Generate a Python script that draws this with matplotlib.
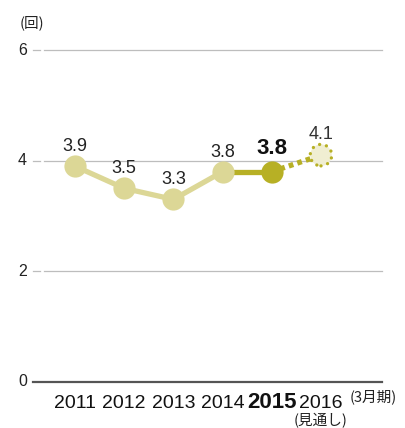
import matplotlib
matplotlib.use("Agg")
import matplotlib.pyplot as plt

plt.rcParams['font.family'] = ['Liberation Sans', 'Noto Sans CJK JP', 'DejaVu Sans']

# Data
years = [2011, 2012, 2013, 2014, 2015, 2016]
year_labels = ["2011", "2012", "2013", "2014", "2015", "2016"]
values = [3.9, 3.5, 3.3, 3.8, 3.8, 4.1]
value_labels = ["3.9", "3.5", "3.3", "3.8", "3.8", "4.1"]
y_ticks = [0, 2, 4, 6]

LIGHT = "#dcd796"
OLIVE = "#b7b025"
PALE = "#f0eed2"
GRID = "#bdbdbd"

fig = plt.figure(figsize=(4.06, 4.28), dpi=100)
W, H = 406, 428
ax = fig.add_axes([44 / W, 46 / H, 338 / W, 332 / H])
ax.set_xlim(2010.37, 2017.24)
ax.set_ylim(0, 6)
ax.axis("off")

ytrans = ax.get_yaxis_transform()   # x in axes, y in data
xtrans = ax.get_xaxis_transform()   # x in data, y in axes

# Grid lines with short tick dashes and labels
for t in y_ticks:
    if t == 0:
        ax.plot([-11 / 338, 1], [t, t], transform=ytrans, color="#555555",
                lw=1.6, clip_on=False, zorder=1)
    else:
        ax.plot([0, 1], [t, t], transform=ytrans, color=GRID, lw=0.9,
                clip_on=False, zorder=1)
        ax.plot([-11 / 338, -4 / 338], [t, t], transform=ytrans, color=GRID,
                lw=0.9, clip_on=False, zorder=1)
    ax.text(-17 / 338, t, str(t), transform=ytrans, ha="right", va="center",
            fontsize=11.5, color="#222222")

ax.text(-12 / 338, 6.5, "(回)", transform=ytrans, ha="center", va="center",
        fontsize=10.5, color="#222222", family=['Noto Sans CJK JP'])

# Line segments: results, latest year, forecast
ax.plot(years[:4], values[:4], color=LIGHT, lw=3.8, solid_capstyle="round",
        zorder=2)
ax.plot(years[3:5], values[3:5], color=OLIVE, lw=3.8, zorder=2)
ax.plot(years[4:6], values[4:6], color=OLIVE, lw=3.8, ls=(0, (0.9, 0.8)),
        zorder=2)

ax.plot(years[:4], values[:4], "o", ms=16, color=LIGHT, mec="none", zorder=4)
ax.plot(years[4], values[4], "o", ms=16, color=OLIVE, mec="none", zorder=4)
# Forecast point with dotted outline
fc = ax.scatter([years[5]], [values[5]], s=240, facecolor=PALE, edgecolor=OLIVE,
                linewidths=2.4, linestyle=(0, (0.01, 2.1)), zorder=4)
fc.set_capstyle("round")

# Value labels
for i, (x, v, lab) in enumerate(zip(years, values, value_labels)):
    if i == 4:
        ax.annotate(lab, (x, v), xytext=(0, 17), textcoords="offset points",
                    ha="center", va="center", fontsize=16, fontweight="bold",
                    color="#111111", zorder=5)
    elif i == 5:
        ax.annotate(lab, (x, v), xytext=(0, 15), textcoords="offset points",
                    ha="center", va="center", fontsize=13, color="#333333",
                    zorder=3)
    else:
        ax.annotate(lab, (x, v), xytext=(0, 14), textcoords="offset points",
                    ha="center", va="center", fontsize=13, color="#222222",
                    zorder=5)

# Year labels
for x, lab in zip(years, year_labels):
    bold = lab == "2015"
    ax.text(x, -21 / 332, lab, transform=xtrans, ha="center", va="center",
            fontsize=16 if bold else 14,
            fontweight="bold" if bold else "normal", color="#111111")

ax.text(2017.06, -15 / 332, "(3月期)", transform=xtrans, ha="center",
        va="center", fontsize=10.5, color="#222222", family=['Noto Sans CJK JP'])
ax.text(2016, -39 / 332, "(見通し)", transform=xtrans, ha="center",
        va="center", fontsize=10.5, color="#222222", family=['Noto Sans CJK JP'])

fig.savefig("out.png", dpi=100)
